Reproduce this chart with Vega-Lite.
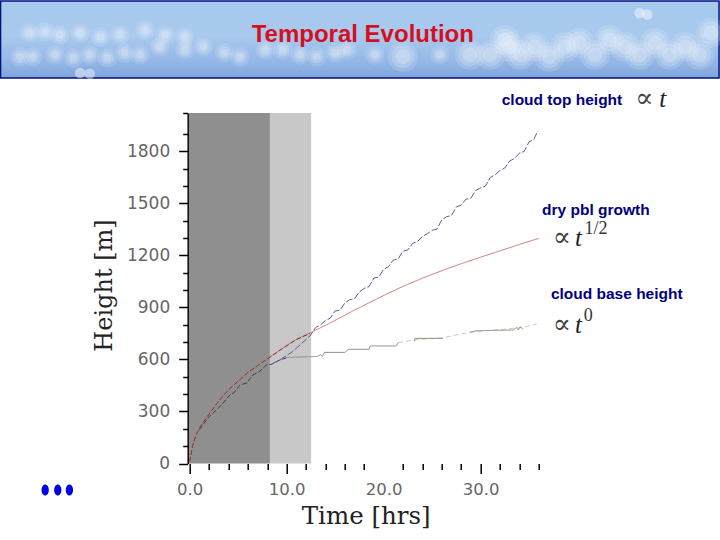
{
  "$schema": "https://vega.github.io/schema/vega-lite/v6.json",
  "width": 351,
  "height": 350.5,
  "autosize": "none",
  "padding": {"left": 187.7, "top": 113, "right": 181.3, "bottom": 76.5},
  "background": "white",
  "view": {"stroke": null},
  "config": {"axis": {"grid": false}},
  "datasets": {
    "band": [{"x": -19.5, "x2": 54.6, "y": 2668, "y2": 2224}],
    "clouds": [
      {"x": 31.0, "y": 2357}, {"x": 32.5, "y": 2444}, {"x": 33.0, "y": 2403}, {"x": 34.1, "y": 2357},
      {"x": 35.6, "y": 2403}, {"x": 37.1, "y": 2346}, {"x": 38.7, "y": 2403}, {"x": 40.2, "y": 2426},
      {"x": 41.8, "y": 2357}, {"x": 43.3, "y": 2444}, {"x": 44.9, "y": 2403}, {"x": 46.4, "y": 2357},
      {"x": 48.0, "y": 2426}, {"x": 49.5, "y": 2357}, {"x": 51.1, "y": 2403}, {"x": 52.6, "y": 2357},
      {"x": 53.8, "y": 2484}, {"x": 22.0, "y": 2346}, {"x": 28.9, "y": 2357}
    ],
    "wisps": [
      {"x": -17.5, "y": 2346}, {"x": -16.5, "y": 2484}, {"x": -14.9, "y": 2490}, {"x": -13.4, "y": 2472},
      {"x": -11.3, "y": 2484}, {"x": -9.2, "y": 2461}, {"x": -7.2, "y": 2472}, {"x": -4.6, "y": 2501},
      {"x": -2.5, "y": 2472}, {"x": -0.5, "y": 2461}, {"x": -16.2, "y": 2346}, {"x": -13.9, "y": 2357},
      {"x": -12.0, "y": 2340}, {"x": -10.3, "y": 2357}, {"x": -8.5, "y": 2340}, {"x": -6.7, "y": 2369},
      {"x": -5.1, "y": 2357}, {"x": -3.1, "y": 2403}, {"x": -0.5, "y": 2386}, {"x": 1.4, "y": 2403},
      {"x": 3.6, "y": 2369}, {"x": 5.2, "y": 2346}, {"x": 7.8, "y": 2386}, {"x": 9.6, "y": 2386},
      {"x": 11.4, "y": 2357}, {"x": 13.1, "y": 2346}, {"x": 15.0, "y": 2369}, {"x": 16.2, "y": 2386},
      {"x": 19.1, "y": 2357}, {"x": 25.8, "y": 2357}
    ],
    "puffs": [{"x": 46.4, "y": 2599}, {"x": 47.2, "y": 2590}, {"x": -11.3, "y": 2253}, {"x": -10.3, "y": 2248}],
    "shades": [
      {"x": -0.07, "x2": 8.28, "y": 0, "y2": 2022, "phase": "dark"},
      {"x": 8.28, "x2": 12.53, "y": 0, "y2": 2022, "phase": "light"}
    ],
    "curves": [
      {"series": "red", "x": 0, "y": 0}, {"series": "red", "x": 0.1, "y": 50}, {"series": "red", "x": 0.3, "y": 117},
      {"series": "red", "x": 0.6, "y": 165}, {"series": "red", "x": 1.06, "y": 212}, {"series": "red", "x": 1.7, "y": 265},
      {"series": "red", "x": 2.4, "y": 309}, {"series": "red", "x": 3.2, "y": 372}, {"series": "red", "x": 4.15, "y": 434},
      {"series": "red", "x": 5.1, "y": 482}, {"series": "red", "x": 6.2, "y": 530}, {"series": "red", "x": 7.2, "y": 575},
      {"series": "red", "x": 8.28, "y": 616}, {"series": "red", "x": 9.3, "y": 655}, {"series": "red", "x": 10.3, "y": 693},
      {"series": "red", "x": 11.3, "y": 725}, {"series": "red", "x": 12.4, "y": 753}, {"series": "red", "x": 14.1, "y": 800},
      {"series": "red", "x": 15.15, "y": 830}, {"series": "red", "x": 17, "y": 885}, {"series": "red", "x": 19.3, "y": 950},
      {"series": "red", "x": 21.8, "y": 1017}, {"series": "red", "x": 24.4, "y": 1078}, {"series": "red", "x": 27, "y": 1133},
      {"series": "red", "x": 30, "y": 1190}, {"series": "red", "x": 33, "y": 1245}, {"series": "red", "x": 36, "y": 1299},

      {"series": "topEarly", "x": 0, "y": 10}, {"series": "topEarly", "x": 0.3, "y": 100}, {"series": "topEarly", "x": 0.6, "y": 155},
      {"series": "topEarly", "x": 1, "y": 205}, {"series": "topEarly", "x": 2, "y": 285}, {"series": "topEarly", "x": 3, "y": 360},
      {"series": "topEarly", "x": 4, "y": 425}, {"series": "topEarly", "x": 5, "y": 475}, {"series": "topEarly", "x": 6, "y": 525},
      {"series": "topEarly", "x": 7, "y": 565}, {"series": "topEarly", "x": 8.2, "y": 610}, {"series": "topEarly", "x": 9.5, "y": 660},
      {"series": "topEarly", "x": 11, "y": 715}, {"series": "topEarly", "x": 12.4, "y": 750},

      {"series": "baseEarly", "x": 1, "y": 195}, {"series": "baseEarly", "x": 2, "y": 270}, {"series": "baseEarly", "x": 2.8, "y": 310},
      {"series": "baseEarly", "x": 3.4, "y": 345}, {"series": "baseEarly", "x": 4.15, "y": 395}, {"series": "baseEarly", "x": 4.6, "y": 410},
      {"series": "baseEarly", "x": 5.2, "y": 453}, {"series": "baseEarly", "x": 5.9, "y": 465}, {"series": "baseEarly", "x": 6.5, "y": 510},
      {"series": "baseEarly", "x": 7.2, "y": 530}, {"series": "baseEarly", "x": 7.9, "y": 568}, {"series": "baseEarly", "x": 8.4, "y": 572},
      {"series": "baseEarly", "x": 9.3, "y": 597}, {"series": "baseEarly", "x": 10, "y": 610},

      {"series": "top", "x": 8.5, "y": 575}, {"series": "top", "x": 9.3, "y": 597}, {"series": "top", "x": 10.6, "y": 645},
      {"series": "top", "x": 12.4, "y": 735}, {"series": "top", "x": 13, "y": 785}, {"series": "top", "x": 13.5, "y": 800},
      {"series": "top", "x": 14, "y": 825}, {"series": "top", "x": 14.5, "y": 838}, {"series": "top", "x": 15, "y": 880},
      {"series": "top", "x": 15.5, "y": 884}, {"series": "top", "x": 16, "y": 925}, {"series": "top", "x": 16.5, "y": 945},
      {"series": "top", "x": 17, "y": 950}, {"series": "top", "x": 17.5, "y": 990}, {"series": "top", "x": 18, "y": 1010},
      {"series": "top", "x": 18.5, "y": 1020}, {"series": "top", "x": 19, "y": 1070}, {"series": "top", "x": 19.5, "y": 1075},
      {"series": "top", "x": 20, "y": 1120}, {"series": "top", "x": 20.5, "y": 1135}, {"series": "top", "x": 21, "y": 1174},
      {"series": "top", "x": 21.5, "y": 1180}, {"series": "top", "x": 22, "y": 1225}, {"series": "top", "x": 22.5, "y": 1232},
      {"series": "top", "x": 23, "y": 1270}, {"series": "top", "x": 23.5, "y": 1280}, {"series": "top", "x": 24, "y": 1310},
      {"series": "top", "x": 24.5, "y": 1325}, {"series": "top", "x": 25, "y": 1345}, {"series": "top", "x": 25.5, "y": 1352},
      {"series": "top", "x": 26, "y": 1405}, {"series": "top", "x": 26.5, "y": 1424}, {"series": "top", "x": 27, "y": 1430},
      {"series": "top", "x": 27.5, "y": 1480}, {"series": "top", "x": 28, "y": 1490}, {"series": "top", "x": 28.5, "y": 1525},
      {"series": "top", "x": 29, "y": 1530}, {"series": "top", "x": 29.5, "y": 1575}, {"series": "top", "x": 30, "y": 1590},
      {"series": "top", "x": 30.5, "y": 1600}, {"series": "top", "x": 31, "y": 1650}, {"series": "top", "x": 31.5, "y": 1665},
      {"series": "top", "x": 32, "y": 1690}, {"series": "top", "x": 32.5, "y": 1705}, {"series": "top", "x": 33, "y": 1745},
      {"series": "top", "x": 33.5, "y": 1760}, {"series": "top", "x": 34, "y": 1790}, {"series": "top", "x": 34.5, "y": 1800},
      {"series": "top", "x": 35, "y": 1855}, {"series": "top", "x": 35.5, "y": 1870}, {"series": "top", "x": 35.9, "y": 1918},

      {"series": "basePale", "x": 21.5, "y": 697}, {"series": "basePale", "x": 23.2, "y": 714}, {"series": "basePale", "x": 26.1, "y": 725},
      {"series": "basePale", "x": 28.9, "y": 757}, {"series": "basePale", "x": 34.4, "y": 785}, {"series": "basePale", "x": 35.8, "y": 805},

      {"series": "base1", "x": 10, "y": 612}, {"series": "base1", "x": 13.2, "y": 618}, {"series": "base1", "x": 13.5, "y": 628},
      {"series": "base1", "x": 13.7, "y": 618}, {"series": "base1", "x": 13.9, "y": 641}, {"series": "base1", "x": 16, "y": 641},
      {"series": "base1", "x": 16.4, "y": 659}, {"series": "base1", "x": 18.5, "y": 659}, {"series": "base1", "x": 18.6, "y": 678},
      {"series": "base1", "x": 21.3, "y": 678}, {"series": "base1", "x": 21.5, "y": 697},
      {"series": "base2", "x": 23.2, "y": 705}, {"series": "base2", "x": 23.25, "y": 722}, {"series": "base2", "x": 26.1, "y": 722},
      {"series": "base3", "x": 28.9, "y": 757}, {"series": "base3", "x": 29.6, "y": 766}, {"series": "base3", "x": 33.4, "y": 770},
      {"series": "base3", "x": 33.7, "y": 785}, {"series": "base3", "x": 33.9, "y": 770}, {"series": "base3", "x": 34.1, "y": 789},
      {"series": "base3", "x": 34.4, "y": 775}
    ],
    "headline": [{"x": 17.86, "y": 2472, "label": "Temporal Evolution"}],
    "notes": [
      {"x": 38.4, "y": 2095, "label": "cloud top height"},
      {"x": 41.9, "y": 1463, "label": "dry pbl growth"},
      {"x": 44.05, "y": 979, "label": "cloud base height"}
    ],
    "propto": [
      {"x": 46.9, "y": 2103, "label": "∝"},
      {"x": 38.4, "y": 1301, "label": "∝"},
      {"x": 38.4, "y": 799, "label": "∝"}
    ],
    "times": [
      {"x": 48.8, "y": 2103, "label": "t"},
      {"x": 40.1, "y": 1301, "label": "t"},
      {"x": 40.1, "y": 799, "label": "t"}
    ],
    "powers": [
      {"x": 41.9, "y": 1353, "label": "1/2"},
      {"x": 41.1, "y": 851, "label": "0"}
    ],
    "dots": [{"x": -14.9, "y": -153}, {"x": -13.6, "y": -153}, {"x": -12.4, "y": -153}]
  },
  "encoding": {
    "x": {
      "field": "x",
      "type": "quantitative",
      "scale": {"domain": [-0.2, 36], "nice": false, "zero": false},
      "axis": {
        "title": "Time [hrs]",
        "titleFont": "DejaVu Serif",
        "titleFontSize": 24.5,
        "titleFontWeight": "normal",
        "titleColor": "#222222",
        "titleX": 178,
        "titleY": 53,
        "titleBaseline": "middle",
        "domain": false,
        "values": [0, 2, 4, 6, 8, 10, 12, 14, 16, 18, 20, 22, 24, 26, 28, 30, 32, 34, 36],
        "tickColor": "black",
        "tickWidth": 1.5,
        "tickSize": {"condition": {"test": "datum.value % 10 === 0", "value": 10}, "value": 6},
        "tickOpacity": {"condition": {"test": "datum.value === 20", "value": 0}, "value": 1},
        "labelExpr": "datum.value % 10 === 0 ? format(datum.value, '.1f') : ''",
        "labelFont": "DejaVu Sans",
        "labelFontSize": 16.5,
        "labelColor": "#666666",
        "labelPadding": 8,
        "labelOverlap": false,
        "labelFlush": false
      }
    },
    "y": {
      "field": "y",
      "type": "quantitative",
      "scale": {"domain": [0, 2022], "nice": false, "zero": false},
      "axis": {
        "title": "Height [m]",
        "titleFont": "DejaVu Serif",
        "titleFontSize": 24,
        "titleFontWeight": "normal",
        "titleColor": "#222222",
        "titleX": -83,
        "titleY": 172,
        "titleBaseline": "middle",
        "domainColor": "black",
        "domainWidth": 1.5,
        "values": [0, 100, 200, 300, 400, 500, 600, 700, 800, 900, 1000, 1100, 1200, 1300, 1400, 1500, 1600, 1700, 1800, 1900, 2020],
        "tickColor": "black",
        "tickWidth": 1.5,
        "tickSize": {"condition": {"test": "datum.value % 300 === 0", "value": 9}, "value": 5},
        "labelExpr": "datum.value % 300 === 0 ? format(datum.value, 'd') : ''",
        "labelFont": "DejaVu Sans",
        "labelFontSize": 17,
        "labelColor": "#666666",
        "labelPadding": 9,
        "labelOverlap": false,
        "labelFlush": false
      }
    }
  },
  "layer": [
    {
      "data": {"name": "band"},
      "mark": {
        "type": "rect",
        "stroke": "#00107f",
        "strokeWidth": 1.5,
        "color": {
          "x1": 0, "y1": 0, "x2": 0, "y2": 1, "gradient": "linear",
          "stops": [
            {"offset": 0, "color": "#a6c9ee"},
            {"offset": 0.45, "color": "#a9c9ee"},
            {"offset": 0.85, "color": "#8fb3e4"},
            {"offset": 1, "color": "#7ea3dc"}
          ]
        }
      },
      "encoding": {"x2": {"field": "x2"}, "y2": {"field": "y2"}}
    },
    {"data": {"name": "clouds"}, "mark": {"type": "circle", "size": 900, "color": "white", "opacity": 0.13}},
    {"data": {"name": "clouds"}, "mark": {"type": "circle", "size": 520, "color": "white", "opacity": 0.17}},
    {"data": {"name": "clouds"}, "mark": {"type": "circle", "size": 220, "color": "white", "opacity": 0.2}},
    {"data": {"name": "wisps"}, "mark": {"type": "circle", "size": 380, "color": "white", "opacity": 0.12}},
    {"data": {"name": "wisps"}, "mark": {"type": "circle", "size": 180, "color": "white", "opacity": 0.17}},
    {"data": {"name": "wisps"}, "mark": {"type": "circle", "size": 60, "color": "white", "opacity": 0.2}},
    {"data": {"name": "puffs"}, "mark": {"type": "circle", "size": 110, "color": "white", "opacity": 0.45}},
    {
      "data": {"name": "shades"},
      "mark": {"type": "rect"},
      "encoding": {
        "x2": {"field": "x2"},
        "y2": {"field": "y2"},
        "color": {
          "field": "phase",
          "type": "nominal",
          "scale": {"domain": ["dark", "light"], "range": ["#8f8f8f", "#c8c8c8"]},
          "legend": null
        }
      }
    },
    {
      "data": {"name": "curves"},
      "mark": {"type": "line", "strokeWidth": 1},
      "encoding": {
        "stroke": {
          "field": "series",
          "type": "nominal",
          "scale": {
            "domain": ["red", "topEarly", "baseEarly", "top", "basePale", "base1", "base2", "base3"],
            "range": ["#cf7474", "#7a3a3a", "#3f3f3f", "#5a5f98", "#dcc8b2", "#8e8b84", "#8e8b84", "#8e8b84"]
          },
          "legend": null
        },
        "strokeDash": {
          "field": "series",
          "type": "nominal",
          "scale": {
            "domain": ["red", "topEarly", "baseEarly", "top", "basePale", "base1", "base2", "base3"],
            "range": [[1, 0], [5, 2], [5, 2], [7, 2], [5, 3], [1, 0], [1, 0], [1, 0]]
          },
          "legend": null
        }
      }
    },
    {
      "data": {"name": "dots"},
      "mark": {
        "type": "point",
        "filled": true,
        "color": "#0000e6",
        "opacity": 1,
        "size": 121,
        "shape": "M -0.66 0 A 0.66 1 0 1 0 0.66 0 A 0.66 1 0 1 0 -0.66 0 Z"
      }
    },
    {
      "data": {"name": "headline"},
      "mark": {"type": "text", "font": "Liberation Sans", "fontWeight": "bold", "fontSize": 24, "color": "#d4101e"},
      "encoding": {"text": {"field": "label"}}
    },
    {
      "data": {"name": "notes"},
      "mark": {"type": "text", "font": "Liberation Sans", "fontWeight": "bold", "fontSize": 15.5, "color": "#00007f"},
      "encoding": {"text": {"field": "label"}}
    },
    {
      "data": {"name": "propto"},
      "mark": {"type": "text", "font": "DejaVu Serif", "fontSize": 27, "color": "#444444"},
      "encoding": {"text": {"field": "label"}}
    },
    {
      "data": {"name": "times"},
      "mark": {"type": "text", "font": "Liberation Serif", "fontStyle": "italic", "fontSize": 25, "color": "#222222"},
      "encoding": {"text": {"field": "label"}}
    },
    {
      "data": {"name": "powers"},
      "mark": {"type": "text", "font": "Liberation Serif", "fontSize": 18, "color": "#333333"},
      "encoding": {"text": {"field": "label"}}
    }
  ]
}
